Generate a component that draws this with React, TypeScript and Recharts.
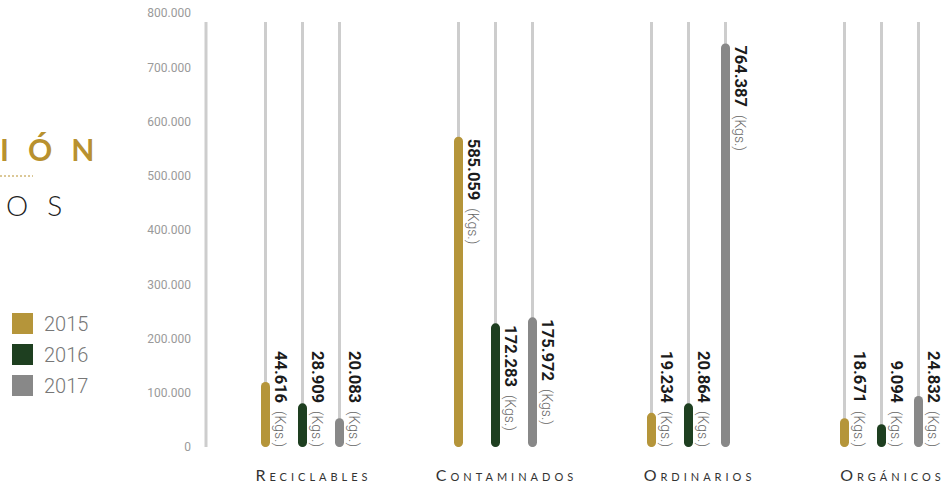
import React from "react";
import { BarChart, Bar, XAxis, YAxis, LabelList } from "recharts";

const categories = ["Reciclables", "Contaminados", "Ordinarios", "Orgánicos"];
const years = ["2015", "2016", "2017"];
const yearColors = ["#b5953a", "#1e3f20", "#888888"];

// bar heights as they are drawn in the picture (not to scale with the printed kgs)
const bars2015 = [120000, 572000, 63000, 53000];
const bars2016 = [80500, 228000, 80500, 42000];
const bars2017 = [53000, 239000, 744000, 94000];

// printed values (Kgs.)
const kgs2015 = ["44.616", "585.059", "19.234", "18.671"];
const kgs2016 = ["28.909", "172.283", "20.864", "9.094"];
const kgs2017 = ["20.083", "175.972", "764.387", "24.832"];

const yTicks = [0, 100000, 200000, 300000, 400000, 500000, 600000, 700000, 800000];

const data = categories.map((name, i) => ({
  name,
  y2015: bars2015[i],
  y2016: bars2016[i],
  y2017: bars2017[i],
  k2015: kgs2015[i],
  k2016: kgs2016[i],
  k2017: kgs2017[i]
}));

const TRACK = "#cdcdcd";

const fmt = (v: number) => (v === 0 ? "0" : v.toLocaleString("de-DE"));

function Track(p: any) {
  const { x, y, width, height } = p;
  return (
    <rect x={x + width / 2 - 1.5} y={y + 9} width={3} height={height - 9} fill={TRACK} />
  );
}

function ValueLabel(p: any) {
  const x = Number(p.x);
  const y = Number(p.y);
  const w = Number(p.width);
  const h = Number(p.height);
  const tx = x + w / 2 + 9;
  const fromTop = h > 105;
  const ty = fromTop ? y + 2 : y + h;
  return (
    <text
      x={tx}
      y={ty}
      transform={`rotate(90 ${tx} ${ty})`}
      textAnchor={fromTop ? "start" : "end"}
      fontFamily="Roboto"
    >
      <tspan fontWeight={700} fontSize={16.5} fill="#1b1b1b">
        {p.value}
      </tspan>
      <tspan fontSize={14} fontWeight={300} fill="#666" dx={8}>
        (Kgs.)
      </tspan>
    </text>
  );
}

function CategoryTick(p: any) {
  const { x, y, payload } = p;
  return (
    <text
      x={x + 11}
      y={y + 26}
      textAnchor="middle"
      fontFamily="Lato"
      fontSize={16}
      letterSpacing={4}
      fill="#333"
      style={{ fontVariant: "small-caps" }}
    >
      {payload.value}
    </text>
  );
}

export default function App() {
  return (
    <div
      style={{
        position: "absolute",
        left: 0,
        top: 0,
        width: 950,
        height: 487,
        overflow: "hidden",
        background: "#fff"
      }}
    >
      <BarChart
        width={978}
        height={487}
        data={data}
        margin={{ top: 13, right: 0, bottom: 0, left: 146 }}
        barSize={9}
        barGap={28}
      >
        <XAxis
          dataKey="name"
          axisLine={false}
          tickLine={false}
          height={40}
          interval={0}
          tick={CategoryTick}
        />
        <YAxis
          width={60}
          domain={[0, 800000]}
          ticks={yTicks}
          tickFormatter={fmt}
          tickLine={false}
          tickMargin={9}
          axisLine={{ stroke: TRACK, strokeWidth: 3, strokeDasharray: "0 9 1000" }}
          tick={{ fill: "#9a9a9a", fontSize: 12, fontFamily: "Roboto" }}
        />
        {years.map((yr, i) => (
          <Bar
            key={yr}
            dataKey={`y${yr}`}
            name={yr}
            fill={yearColors[i]}
            radius={[4.5, 4.5, 4.5, 4.5]}
            background={Track}
            isAnimationActive={false}
          >
            <LabelList dataKey={`k${yr}`} content={ValueLabel} />
          </Bar>
        ))}
      </BarChart>

      <div
        style={{
          position: "absolute",
          left: 0,
          top: 134,
          fontFamily: "Lato",
          fontWeight: 700,
          fontSize: 30,
          lineHeight: "30px",
          letterSpacing: 19,
          color: "#b8912f",
          whiteSpace: "nowrap"
        }}
      >
        IÓN
      </div>
      <svg style={{ position: "absolute", left: 0, top: 174 }} width={40} height={4}>
        <line x1={0} y1={2} x2={33} y2={2} stroke="#b8912f" strokeWidth={1} strokeDasharray="2 2" />
      </svg>
      <div
        style={{
          position: "absolute",
          left: 6,
          top: 191,
          fontFamily: "Lato",
          fontWeight: 300,
          fontSize: 28,
          lineHeight: "28px",
          letterSpacing: 19,
          color: "#222",
          whiteSpace: "nowrap"
        }}
      >
        OS
      </div>

      {years.map((yr, i) => (
        <div
          key={yr}
          style={{
            position: "absolute",
            left: 12,
            top: 313 + i * 31,
            height: 21,
            display: "flex",
            alignItems: "center",
            fontFamily: "Roboto",
            fontWeight: 300,
            fontSize: 20,
            color: "#777"
          }}
        >
          <span style={{ width: 21, height: 21, background: yearColors[i], marginRight: 11 }} />
          {yr}
        </div>
      ))}
    </div>
  );
}
